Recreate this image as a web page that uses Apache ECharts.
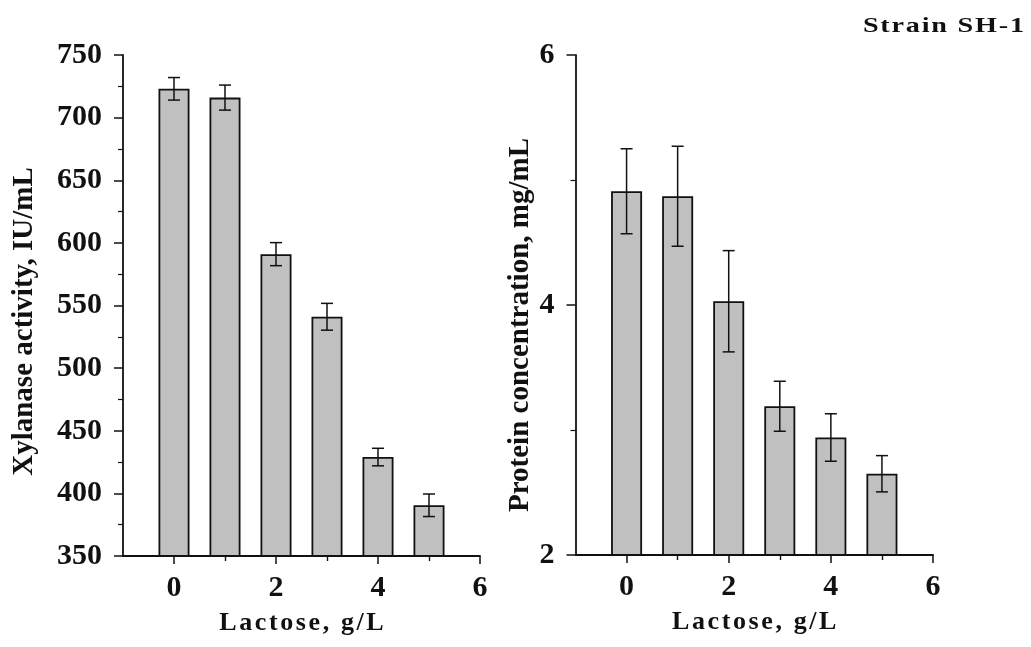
<!DOCTYPE html>
<html>
<head>
<meta charset="utf-8">
<script src="https://cdn.jsdelivr.net/npm/echarts@6/dist/echarts.min.js"></script>
<style>
html,body{margin:0;padding:0;background:#fff;}
#chart{width:1031px;height:647px;}
</style>
</head>
<body>
<div id="chart"></div>
<script>
// ---- data ----
const lactose = [0, 1, 2, 3, 4, 5];
const xylanase = [723, 716, 591, 541, 429, 390.5];
const xylanaseErr = [9, 10, 9.2, 10.7, 7, 9];
const protein = [4.91, 4.87, 4.03, 3.19, 2.94, 2.65];
const proteinErr = [0.34, 0.40, 0.405, 0.20, 0.19, 0.145];
const xTickLabels = [0, 2, 4, 6];
const xMinorTicks = [1, 3, 5];
const xTitle = 'Lactose, g/L';
const yTitleLeft = 'Xylanase activity, IU/mL';
const yTitleRight = 'Protein concentration, mg/mL';
const cornerTitle = 'Strain SH-1';

const FONT = '"Liberation Serif", "Times New Roman", "DejaVu Serif", serif';

function spaced(str) {
  return str.split('').map(ch => '{c|' + ch + '}').join('');
}

const chart = echarts.init(document.getElementById('chart'), null, {renderer: 'canvas'});

function pairs(xs, ys) { return xs.map((x, i) => [x, ys[i]]); }
function errData(xs, ys, es) { return xs.map((x, i) => [x, ys[i] - es[i], ys[i] + es[i]]); }

function errorRender(params, api) {
  const x = api.value(0);
  const lo = api.coord([x, api.value(1)]);
  const hi = api.coord([x, api.value(2)]);
  const hw = 6;
  const st = {stroke: '#111', lineWidth: 1.5};
  return {
    type: 'group',
    children: [
      {type: 'line', shape: {x1: lo[0], y1: lo[1], x2: hi[0], y2: hi[1]}, style: st},
      {type: 'line', shape: {x1: hi[0] - hw, y1: hi[1], x2: hi[0] + hw, y2: hi[1]}, style: st},
      {type: 'line', shape: {x1: lo[0] - hw, y1: lo[1], x2: lo[0] + hw, y2: lo[1]}, style: st}
    ]
  };
}

const axisLineStyle = {color: '#111', width: 1.8};

function mainX(gridIndex) {
  return {
    type: 'value', gridIndex: gridIndex, min: -1, max: 6, interval: 1,
    axisLine: {show: true, onZero: false, lineStyle: axisLineStyle},
    axisTick: {show: true, customValues: xTickLabels, length: 8, lineStyle: {color: '#111', width: 1.5}},
    axisLabel: {show: true, customValues: xTickLabels, margin: 17, color: '#111',
      fontFamily: FONT, fontWeight: 'bold', fontSize: 30},
    splitLine: {show: false},
    name: spaced(xTitle), nameLocation: 'middle', nameGap: 54, nameMoveOverlap: false,
    nameTextStyle: {rich: {c: {fontFamily: FONT, fontWeight: 'bold', fontSize: 26, color: '#111', padding: [0, 1.3, 0, 1.3]}}}
  };
}
function minorX(gridIndex) {
  return {
    type: 'value', gridIndex: gridIndex, min: -1, max: 6, interval: 1, position: 'bottom',
    axisLine: {show: false},
    axisTick: {show: true, customValues: xMinorTicks, length: 5, lineStyle: {color: '#111', width: 1.4}},
    axisLabel: {show: false},
    splitLine: {show: false}
  };
}
function yAxis(gridIndex, min, max, interval, name, nameGap, shift) {
  return {
    type: 'value', gridIndex: gridIndex, min: min, max: max, interval: interval,
    axisLine: {show: true, onZero: false, lineStyle: axisLineStyle},
    axisTick: {show: true, length: 9, lineStyle: {color: '#111', width: 1.5}},
    minorTick: {show: true, splitNumber: 2, length: 5, lineStyle: {color: '#111', width: 1.2}},
    axisLabel: {margin: 21, color: '#111', fontFamily: FONT, fontWeight: 'bold', fontSize: 30},
    splitLine: {show: false},
    name: name, nameLocation: 'middle', nameGap: nameGap, nameMoveOverlap: false,
    nameTextStyle: {fontFamily: FONT, fontWeight: 'bold', fontSize: 29, color: '#111', padding: [0, shift, 0, 0]}
  };
}

const barStyle = {color: '#c0c0c0', borderColor: '#111', borderWidth: 1.8};

chart.setOption({
  animation: false,
  backgroundColor: '#fff',
  grid: [
    {left: 123, top: 55, width: 357, height: 501},
    {left: 575.5, top: 55, width: 357.5, height: 500}
  ],
  xAxis: [mainX(0), minorX(0), mainX(1), minorX(1)],
  yAxis: [
    yAxis(0, 350, 750, 50, yTitleLeft, 84, 32),
    yAxis(1, 2, 6, 2, yTitleRight, 40, 40)
  ],
  graphic: [{
    type: 'text', x: 862, y: 15, scaleX: 1.28, scaleY: 1,
    style: {
      text: spaced(cornerTitle),
      rich: {c: {fontFamily: FONT, fontWeight: 'bold', fontSize: 22, fill: '#111', padding: [0, 0.7, 0, 0.7]}}
    }
  }],
  series: [
    {type: 'bar', xAxisIndex: 0, yAxisIndex: 0, barWidth: 31, data: pairs(lactose, xylanase), itemStyle: barStyle},
    {type: 'custom', xAxisIndex: 0, yAxisIndex: 0, renderItem: errorRender, data: errData(lactose, xylanase, xylanaseErr), z: 5},
    {type: 'bar', xAxisIndex: 2, yAxisIndex: 1, barWidth: 31, data: pairs(lactose, protein), itemStyle: barStyle},
    {type: 'custom', xAxisIndex: 2, yAxisIndex: 1, renderItem: errorRender, data: errData(lactose, protein, proteinErr), z: 5}
  ]
});
</script>
</body>
</html>
